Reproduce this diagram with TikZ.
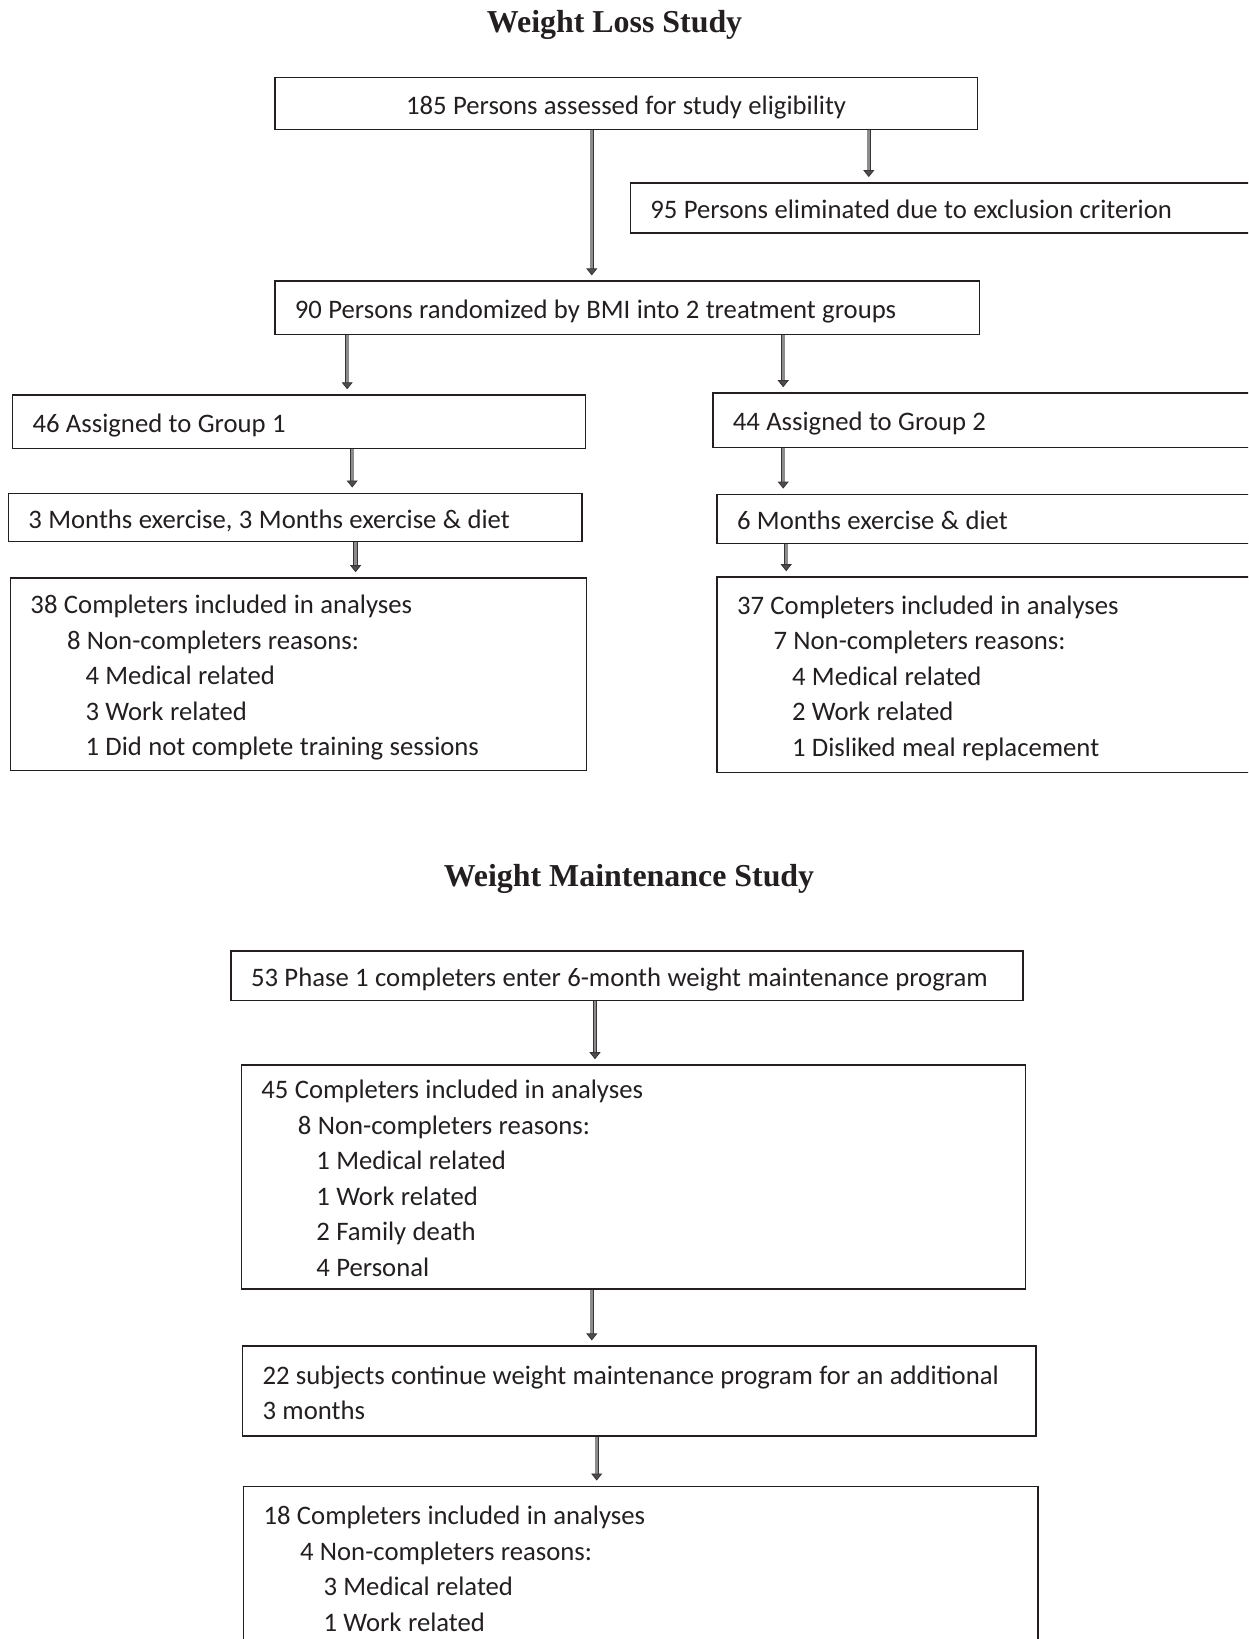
\documentclass[tikz,border=0pt]{standalone}
\usepackage{fontspec}
\setmainfont{Carlito}
\newfontfamily\titlefont{Liberation Serif}
\usetikzlibrary{arrows.meta}
\definecolor{boxline}{HTML}{231F20}
\definecolor{shaft}{HTML}{8C8C8C}
\tikzset{
  box/.style={draw=boxline, line width=1.6pt, inner xsep=20pt, inner ysep=0pt,
    align=left, text=boxline, font=\fontsize{26.7}{35.5}\selectfont,
    execute at begin node={\spaceskip=6.4pt\relax\rule[-6pt]{0pt}{33.4pt}},
    execute at end node={\rule[-6pt]{0pt}{33.4pt}}},
  ttl/.style={text=boxline, font=\titlefont\bfseries\fontsize{31.9}{38}\selectfont},
  arr/.style={draw=boxline!90, line width=0.8pt, double=shaft, double distance=2.8pt,
    shorten >=5pt, -{Triangle[length=7pt,width=11pt,fill=boxline!80]}}
}
\newcommand{\indA}{\hspace*{36.5pt}}
\newcommand{\indB}{\hspace*{55pt}}

\begin{document}
\begin{tikzpicture}[x=1pt, y=-1pt]
  \useasboundingbox (0,0) rectangle (1248,1639);
  \clip (0,0) rectangle (1248,1639);

  % weight loss study
  \node[ttl] (t1) at (614.6,25) {Weight Loss Study};
  \node[box, align=center, text width=662.4pt, minimum height=52.3pt] (b1) at (626.1,103.45)
    {185 Persons assessed for study eligibility};
  \node[box, text width=600pt, minimum height=50.2pt] (b2) at (950.3,208)
    {95 Persons eliminated due to exclusion criterion};
  \node[box, text width=664.5pt, minimum height=53.3pt] (b3) at (627.15,307.85)
    {90 Persons randomized by BMI into 2 treatment groups};
  \node[box, text width=532.8pt, minimum height=53.3pt] (b4) at (298.9,421.75)
    {46 Assigned to Group 1};
  \node[box, text width=517.2pt, minimum height=54.3pt] (b5) at (991.4,420.15)
    {44 Assigned to Group 2};
  \node[box, text width=533.8pt, minimum height=48.1pt] (b6) at (295.3,517.35)
    {3 Months exercise, 3 Months exercise \& diet};
  \node[box, text width=513pt, minimum height=49.1pt] (b7) at (993.5,518.95)
    {6 Months exercise \& diet};
  \node[box, text width=535.9pt, minimum height=192.3pt] (b8) at (298.45,674.15)
    {38 Completers included in analyses\\
     \indA 8 Non-completers reasons:\\
     \indB 4 Medical related\\
     \indB 3 Work related\\
     \indB 1 Did not complete training sessions};
  \node[box, text width=513pt, minimum height=195.4pt] (b9) at (993.5,674.7)
    {37 Completers included in analyses\\
     \indA 7 Non-completers reasons:\\
     \indB 4 Medical related\\
     \indB 2 Work related\\
     \indB 1 Disliked meal replacement};

  \draw[arr] ([xshift=317.7pt]b1.south west) coordinate (s1) -- (s1 |- b3.north);
  \draw[arr] ([xshift=594.7pt]b1.south west) coordinate (s2) -- (s2 |- b2.north);
  \draw[arr] ([xshift=73.1pt]b3.south west) coordinate (s3) -- (s3 |- b4.north);
  \draw[arr] ([xshift=509.1pt]b3.south west) coordinate (s4) -- (s4 |- b5.north);
  \draw[arr] ([xshift=340.5pt]b4.south west) coordinate (s5) -- (s5 |- b6.north);
  \draw[arr] ([xshift=71.2pt]b5.south west) coordinate (s6) -- (s6 |- b7.north);
  \draw[arr] ([xshift=348pt]b6.south west) coordinate (s7) -- (s7 |- b8.north);
  \draw[arr] ([xshift=70pt]b7.south west) coordinate (s8) -- (s8 |- b9.north);

  % weight maintenance study
  \node[ttl] (t2) at (629,879) {Weight Maintenance Study};
  \node[box, text width=752.2pt, minimum height=49.2pt] (b10) at (627.1,975.7)
    {53 Phase 1 completers enter 6-month weight maintenance program};
  \node[box, text width=743.9pt, minimum height=223.7pt] (b11) at (633.35,1176.85)
    {45 Completers included in analyses\\
     \indA 8 Non-completers reasons:\\
     \indB 1 Medical related\\
     \indB 1 Work related\\
     \indB 2 Family death\\
     \indB 4 Personal};
  \node[box, text width=753.3pt, minimum height=89.9pt] (b12) at (639.15,1391.15)
    {22 subjects continue weight maintenance program for an additional\\
     3 months};
  \node[box, text width=754.4pt, minimum height=161.9pt] (b13) at (640.7,1567.25)
    {18 Completers included in analyses\\
     \indA 4 Non-completers reasons:\\
     \hspace*{60pt}3 Medical related\\
     \hspace*{60pt}1 Work related};

  \draw[arr] ([xshift=364.8pt]b10.south west) coordinate (s9) -- (s9 |- b11.north);
  \draw[arr] ([xshift=351.2pt]b11.south west) coordinate (s10) -- (s10 |- b12.north);
  \draw[arr] ([xshift=355pt]b12.south west) coordinate (s11) -- (s11 |- b13.north);
\end{tikzpicture}
\end{document}
